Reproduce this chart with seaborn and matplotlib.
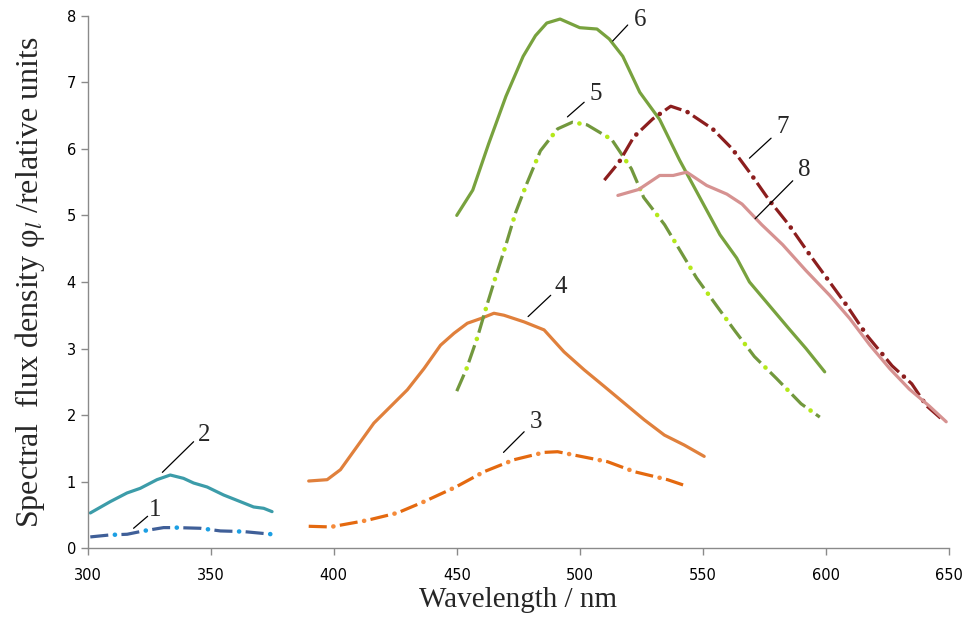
import numpy as np
import pandas as pd
import seaborn as sns
import matplotlib.pyplot as plt

# spectra (wavelength nm, flux density)
x1 = [301, 309, 316, 322.6, 330.8, 336, 345.7, 353.9, 363.4, 374.9]
y1 = [0.17, 0.20, 0.21, 0.26, 0.31, 0.31, 0.30, 0.26, 0.25, 0.21]

x2 = [301, 309.1, 315.9, 321.3, 328.1, 333.5, 338.9, 343, 348.5, 355.2, 362, 367.4, 371.5, 374.9]
y2 = [0.53, 0.70, 0.83, 0.90, 1.03, 1.10, 1.05, 0.98, 0.92, 0.80, 0.70, 0.62, 0.60, 0.55]

x3 = [389.8, 398.7, 413.6, 425.8, 436.7, 449.6, 461.1, 473.3, 485.5, 491, 497.7, 511.3, 522.2, 535.7, 544.5]
y3 = [0.33, 0.32, 0.42, 0.53, 0.70, 0.92, 1.15, 1.33, 1.44, 1.45, 1.40, 1.30, 1.15, 1.03, 0.92]

x4 = [389.8, 397.3, 402.7, 409.5, 416.3, 423.1, 429.9, 436.7, 443.4, 448.9, 454.3, 459.7, 465.1,
      469.2, 477.4, 485.5, 493.6, 501.8, 510, 518.1, 526.2, 534.4, 542.5, 550.6]
y4 = [1.01, 1.03, 1.18, 1.53, 1.88, 2.13, 2.38, 2.70, 3.05, 3.23, 3.38, 3.45, 3.53,
      3.50, 3.40, 3.28, 2.95, 2.68, 2.43, 2.18, 1.93, 1.70, 1.55, 1.38]

x5 = [450, 454, 458.5, 462, 466, 470, 474, 478.5, 484, 491, 497, 503, 513, 521, 526, 534.5,
      547.5, 555.7, 563, 571, 580, 590, 597.6]
y5 = [2.36, 2.70, 3.18, 3.62, 4.10, 4.56, 5.05, 5.48, 5.97, 6.30, 6.40, 6.36, 6.14, 5.70, 5.27, 4.86,
      4.06, 3.64, 3.27, 2.88, 2.55, 2.17, 1.97]

x6 = [450, 456.5, 463, 470, 477, 482, 486.6, 492, 500, 507, 512, 517.5, 524.4, 532.5,
      540.6, 548.8, 557, 563.8, 569, 577, 585, 592, 599.6]
y6 = [5.00, 5.38, 6.08, 6.79, 7.39, 7.70, 7.89, 7.95, 7.82, 7.80, 7.65, 7.39, 6.85, 6.44,
      5.83, 5.27, 4.71, 4.36, 4.00, 3.65, 3.30, 3.00, 2.65]

x7 = [510, 516, 522, 529.7, 537, 543.5, 554, 562, 570, 577, 585, 593.5, 601.6, 608.5,
      616.7, 627, 635, 641, 648.4]
y7 = [5.53, 5.80, 6.18, 6.45, 6.64, 6.56, 6.30, 6.00, 5.60, 5.23, 4.86, 4.41, 4.00, 3.65,
      3.20, 2.74, 2.47, 2.14, 1.90]

x8 = [515.5, 524, 532.5, 538, 543.5, 551.6, 559.8, 566, 574, 582.5, 592, 601.6, 609.8,
      618, 626, 634, 642, 649]
y8 = [5.30, 5.39, 5.60, 5.60, 5.65, 5.45, 5.32, 5.17, 4.86, 4.56, 4.17, 3.80, 3.45,
      3.05, 2.70, 2.39, 2.14, 1.90]

labels = ["1", "2", "3", "4", "5", "6", "7", "8"]
label_xy = [(327.5, 0.58), (347.4, 1.70), (482.1, 1.90), (492.3, 3.93),
            (506.5, 6.83), (524.6, 7.93), (582.6, 6.33), (591.4, 5.68)]
leader_from = [(318.6, 0.30), (330.3, 1.14), (469, 1.44), (479, 3.48),
               (495, 6.48), (513.4, 7.62), (569, 5.86), (571.3, 4.95)]
leader_to = [(324.3, 0.48), (343, 1.60), (477.4, 1.75), (488.2, 3.80),
             (501.8, 6.70), (519.5, 7.86), (577.8, 6.16), (586.6, 5.52)]

sns.set_style("ticks")
plt.rcParams["font.family"] = ["DejaVu Sans"]
plt.rcParams["mathtext.fontset"] = "stix"
plt.rcParams["lines.scale_dashes"] = False

fig = plt.figure(figsize=(9.76, 6.28), dpi=100)
ax = fig.add_axes([0.090, 0.127, 0.882, 0.848])

lw = 2.3
dash = (0, (13, 9.5))
dot = (4.75, (0.1, 22.4))


def dashdot(x, y, c_dash, c_dot):
    sns.lineplot(x=x, y=y, ax=ax, color=c_dash, lw=lw, linestyle=dash,
                 solid_capstyle="butt", dash_capstyle="butt")
    sns.lineplot(x=x, y=y, ax=ax, color=c_dot, lw=lw + 1.0, linestyle=dot,
                 dash_capstyle="round")


dashdot(x1, y1, "#3f5f98", "#1c9fe3")
sns.lineplot(x=x2, y=y2, ax=ax, color="#3c9ca9", lw=lw)
dashdot(x3, y3, "#e4690f", "#f58a3a")
sns.lineplot(x=x4, y=y4, ax=ax, color="#e0803c", lw=lw)
dashdot(x5, y5, "#72983d", "#b4e81a")
sns.lineplot(x=x6, y=y6, ax=ax, color="#78a23e", lw=lw)
dashdot(x7, y7, "#8c1e1e", "#8c1e1e")
sns.lineplot(x=x8, y=y8, ax=ax, color="#d69291", lw=lw)

for lab, (tx, ty), (ax0, ay0), (ax1, ay1) in zip(labels, label_xy, leader_from, leader_to):
    ax.plot([ax0, ax1], [ay0, ay1], color="black", lw=0.9)
    ax.text(tx, ty, lab, fontsize=18, family="Liberation Serif", ha="center", va="center")

ax.set_xlim(300, 650)
ax.set_ylim(0, 8)
ax.set_xticks(np.arange(300, 651, 50))
ax.set_yticks(np.arange(0, 9, 1))
for s in ["top", "right"]:
    ax.spines[s].set_visible(False)
for s in ["left", "bottom"]:
    ax.spines[s].set_color("#8a8a8a")
    ax.spines[s].set_linewidth(1.0)
ax.tick_params(axis="both", colors="#8a8a8a", labelcolor="black", labelsize=10.5, length=5, width=1)
ax.tick_params(axis="x", pad=9)

ax.set_xlabel("Wavelength / nm", fontsize=21, family="Liberation Serif", labelpad=3)
ax.set_ylabel(r"Spectral  flux density φ$_{l}$ /relative units", fontsize=23,
              family="Liberation Serif", labelpad=14)

fig.savefig("out.png", dpi=100)
